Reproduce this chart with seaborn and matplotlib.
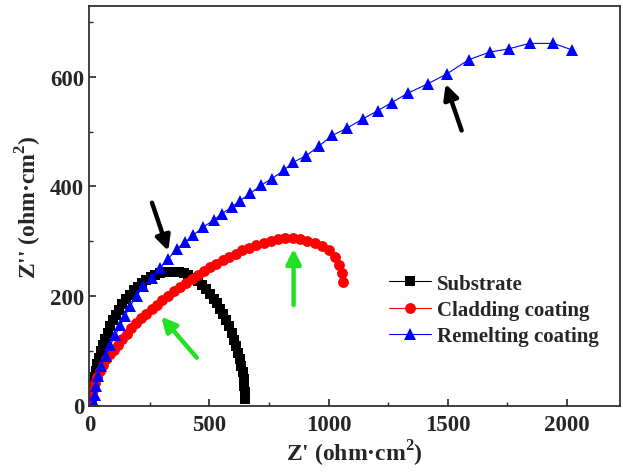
import numpy as np
import pandas as pd
import seaborn as sns
import matplotlib.pyplot as plt
from matplotlib.ticker import MultipleLocator

# Substrate (black squares)
sub_x = [4, 6, 9, 13, 18, 24, 30, 37, 45, 54, 63, 73, 84, 96, 108, 121, 135, 150, 166, 182, 199, 216,
         234, 253, 272, 292, 312, 332, 352, 372, 392, 412, 432, 451, 469, 486, 502, 517, 531, 545,
         558, 570, 582, 593, 603, 612, 620, 628, 634, 640, 644, 647, 649, 650]
sub_y = [6, 16, 27, 39, 51, 63, 75, 87, 99, 111, 122, 133, 144, 155, 165, 175, 185, 194, 202, 210, 217, 223,
         229, 234, 238, 241, 243, 244, 244, 243, 241, 238, 233, 227, 220, 212, 204, 195, 186, 176,
         166, 155, 144, 132, 120, 108, 96, 84, 72, 60, 48, 36, 24, 12]

# Cladding coating (red circles)
clad_x = [3, 7, 12, 19, 28, 39, 52, 66, 82, 98, 115, 133, 152, 172, 192, 213, 235, 257, 280, 303,
          327, 351, 375, 400, 425, 450, 476, 502, 528, 555, 582, 610, 638, 667, 697, 727, 757, 787,
          818, 849, 880, 911, 942, 972, 1000, 1025, 1044, 1056, 1061]
clad_y = [4, 16, 28, 40, 52, 63, 74, 84, 93, 101, 110, 121, 131, 141, 150, 159, 167, 176, 184, 192,
          200, 208, 216, 224, 231, 238, 245, 252, 259, 265, 271, 277, 283, 288, 293, 297, 300, 303,
          305, 305, 304, 301, 297, 291, 283, 271, 256, 241, 226]

# Remelting coating (blue triangles)
rem_x = [17, 20, 25, 34, 47, 65, 84, 105, 126, 147, 168, 195, 223, 258, 292, 328, 363, 398, 433, 475,
         517, 552, 594, 629, 671, 717, 762, 811, 852, 906, 961, 1016, 1076, 1143, 1206, 1265, 1332,
         1415, 1495, 1587, 1675, 1755, 1843, 1943, 2022]
rem_y = [4, 18, 36, 54, 72, 91, 110, 128, 146, 164, 182, 200, 218, 232, 250, 268, 286, 298, 311, 326,
         338, 350, 362, 374, 387, 402, 414, 429, 444, 456, 474, 493, 506, 523, 538, 553, 570,
         587, 605, 631, 645, 651, 661, 661, 649]

# arrows: (tail_x, tail_y, head_x, head_y, colour)
arrows = [(259, 370, 327, 282, 'black'),
          (1558, 502, 1491, 587, 'black'),
          (853, 183, 853, 286, '#22e022'),
          (447, 87, 298, 162, '#22e022')]

sns.set_style('ticks')
plt.rcParams['font.family'] = ['Liberation Serif', 'DejaVu Serif']
plt.rcParams['font.weight'] = 'bold'
plt.rcParams['mathtext.fontset'] = 'custom'
plt.rcParams['mathtext.rm'] = 'Liberation Serif:bold'
plt.rcParams['mathtext.bf'] = 'Liberation Serif:bold'

fig = plt.figure(figsize=(6.23, 4.77), dpi=100)
ax = fig.add_axes([0.143, 0.147, 0.852, 0.838])

sns.lineplot(x=sub_x, y=sub_y, sort=False, estimator=None, color='black', lw=0.8,
             marker='s', markersize=6.5, markeredgewidth=0, label='Substrate', ax=ax)
sns.lineplot(x=clad_x, y=clad_y, sort=False, estimator=None, color='red', lw=0.8,
             marker='o', markersize=7.8, markeredgewidth=0, label='Cladding coating', ax=ax)
sns.lineplot(x=rem_x, y=rem_y, sort=False, estimator=None, color='blue', lw=0.8,
             marker='^', markersize=8.5, markeredgewidth=0, label='Remelting coating', ax=ax)

for tx, ty, hx, hy, c in arrows:
    ax.annotate('', xy=(hx, hy), xytext=(tx, ty),
                arrowprops=dict(arrowstyle='-|>', color=c, lw=3.2, mutation_scale=22,
                                shrinkA=0, shrinkB=0))

ax.set_xlim(-5, 2222)
ax.set_ylim(-1, 729)
ax.xaxis.set_major_locator(MultipleLocator(500))
ax.xaxis.set_minor_locator(MultipleLocator(250))
ax.yaxis.set_major_locator(MultipleLocator(200))
ax.yaxis.set_minor_locator(MultipleLocator(100))
ax.tick_params(which='major', direction='in', length=5, width=1.2, labelsize=16.5)
ax.tick_params(axis='x', which='major', pad=6)
ax.tick_params(which='minor', direction='in', length=3, width=1.0)
for lab in ax.get_xticklabels() + ax.get_yticklabels():
    lab.set_fontweight('bold')
for sp in ax.spines.values():
    sp.set_linewidth(1.3)
    sp.set_color('#333333')

ax.set_xlabel("Z' (ohm·cm$^{2}$)", fontsize=17, fontweight='bold', labelpad=2)
ax.set_ylabel("Z'' (ohm·cm$^{2}$)", fontsize=17, fontweight='bold', labelpad=4)

ax.legend(loc='center left', bbox_to_anchor=(0.53, 0.24), frameon=False,
          prop={'size': 15, 'weight': 'bold'}, handlelength=2.0, handletextpad=0.3,
          labelspacing=0.3)

fig.savefig('out.png', dpi=100)
